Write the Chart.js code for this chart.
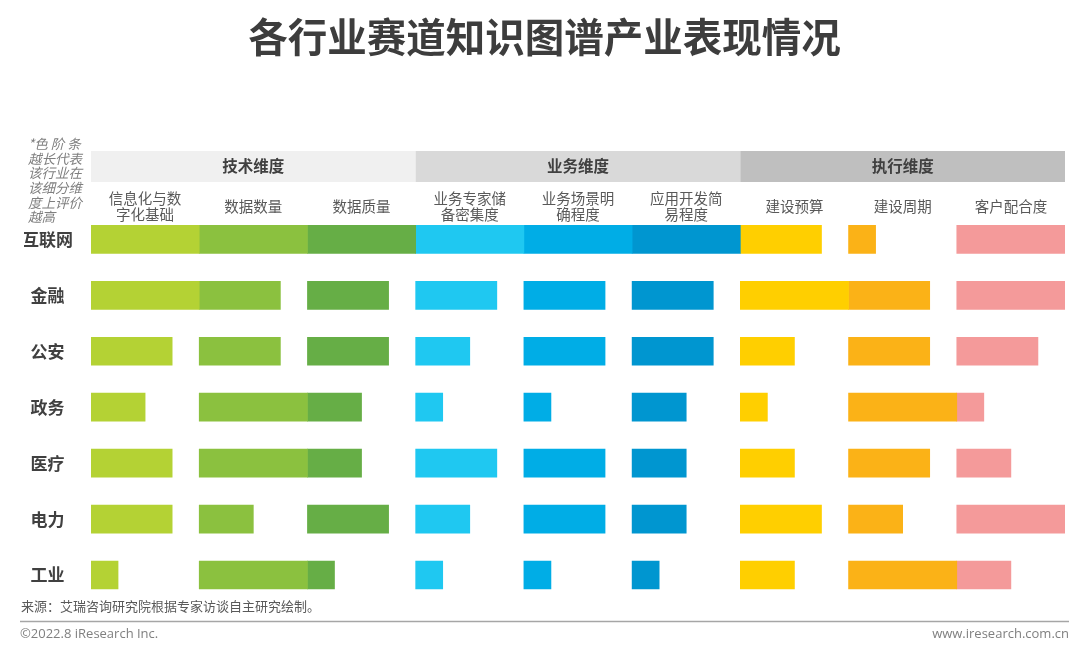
<!DOCTYPE html>
<html><head><meta charset="utf-8">
<script src="https://cdn.jsdelivr.net/npm/chart.js@4.4.1/dist/chart.umd.min.js"></script>
<style>html,body{margin:0;padding:0;background:#fff}#wrap{width:1080px;height:655px;position:relative}</style>
</head><body><div id="wrap"><canvas id="c"></canvas></div>
<script>
const industries = ['互联网','金融','公安','政务','医疗','电力','工业'];
const dimensionLabels = [['信息化与数','字化基础'],['数据数量'],['数据质量'],['业务专家储','备密集度'],['业务场景明','确程度'],['应用开发简','易程度'],['建设预算'],['建设周期'],['客户配合度']];
const groups = ['技术维度','业务维度','执行维度'];
const maxLevel = 4;
const infoBase   = [4,4,3,2,3,3,1];
const dataVolume = [4,3,3,4,4,2,4];
const dataQuality= [4,3,3,2,2,3,1];
const expertDensity = [4,3,2,1,3,2,1];
const sceneClarity  = [4,3,3,1,3,3,1];
const devEase       = [4,3,3,2,2,2,1];
const budget        = [3,4,2,1,2,3,2];
const cycle         = [1,3,3,4,3,2,4];
const cooperation   = [4,4,3,1,2,4,2];
const seriesValues = [infoBase,dataVolume,dataQuality,expertDensity,sceneClarity,devEase,budget,cycle,cooperation];
const colors = ['#b4d234','#8bc13f','#66ae46','#1fc8f1','#00ade6','#0096d0','#ffcf00','#fbb217','#f49a9a'];
const bandColors = ['#f0f0f0','#d9d9d9','#bfbfbf'];
const noteLines = ['*色 阶 条','越长代表','该行业在','该细分维','度上评价','越高'];
const sourceText = '来源：艾瑞咨询研究院根据专家访谈自主研究绘制。';
const copyright = '©2022.8 iResearch Inc.';
const website = 'www.iresearch.com.cn';
const CJK = '"Noto Sans CJK SC","Noto Sans",sans-serif';

const datasets = seriesValues.map((vals, i) => ({
  label: dimensionLabels[i].join(''),
  data: vals.map(v => [i*maxLevel, i*maxLevel + v]),
  backgroundColor: colors[i],
  borderWidth: 0,
  borderSkipped: false,
  grouped: false,
  barThickness: 28
}));

const decor = {
  id: 'decor',
  afterDraw(chart) {
    const {ctx, scales:{x}} = chart;
    ctx.save();
    ctx.textAlign = 'center'; ctx.textBaseline = 'middle';
    groups.forEach((g, gi) => {
      const x0 = x.getPixelForValue(gi*3*maxLevel), x1 = x.getPixelForValue((gi+1)*3*maxLevel);
      ctx.fillStyle = bandColors[gi];
      ctx.fillRect(x0, 151, x1-x0, 31);
      ctx.fillStyle = '#404040';
      ctx.font = 'bold 15.5px ' + CJK;
      ctx.fillText(g, (x0+x1)/2, 166);
    });
    ctx.fillStyle = '#595959';
    ctx.font = '14.5px ' + CJK;
    dimensionLabels.forEach((lines, i) => {
      const cx = x.getPixelForValue(i*maxLevel + maxLevel/2);
      if (lines.length === 1) ctx.fillText(lines[0], cx, 206);
      else { ctx.fillText(lines[0], cx, 198); ctx.fillText(lines[1], cx, 214); }
    });
    ctx.textAlign = 'left';
    ctx.fillStyle = '#7f7f7f';
    ctx.font = 'italic 13.5px ' + CJK;
    noteLines.forEach((t, i) => ctx.fillText(t, 28, 144 + i*14.6));
    ctx.fillStyle = '#595959';
    ctx.font = '13px ' + CJK;
    ctx.fillText(sourceText, 21, 606);
    ctx.strokeStyle = '#a6a6a6'; ctx.lineWidth = 1.5;
    ctx.beginPath(); ctx.moveTo(20, 621.5); ctx.lineTo(1069, 621.5); ctx.stroke();
    ctx.fillStyle = '#808080';
    ctx.font = '13px "Open Sans","Noto Sans",sans-serif';
    ctx.fillText(copyright, 20, 634);
    ctx.textAlign = 'right';
    ctx.fillText(website, 1069, 634);
    ctx.restore();
  }
};

new Chart(document.getElementById('c'), {
  type: 'bar',
  data: { labels: industries, datasets },
  options: {
    indexAxis: 'y',
    responsive: true,
    maintainAspectRatio: false,
    animation: false,
    layout: { padding: { left: 24, right: 15, top: 0, bottom: 52 } },
    plugins: {
      legend: { display: false },
      tooltip: { enabled: false },
      title: {
        display: true,
        text: '各行业赛道知识图谱产业表现情况',
        color: '#3d3d3d',
        font: { family: CJK, size: 39.5, weight: 'bold' },
        padding: { top: 13, bottom: 151 }
      }
    },
    scales: {
      x: { type: 'linear', min: 0, max: seriesValues.length*maxLevel, display: false },
      y: {
        type: 'category',
        grid: { display: false, drawTicks: false },
        border: { display: false },
        afterFit(scale) { scale.width = 67; },
        ticks: {
          crossAlign: 'center',
          padding: 18,
          color: '#404040',
          font: { family: CJK, size: 17, weight: 'bold' }
        }
      }
    }
  },
  plugins: [decor]
});
</script></body></html>
